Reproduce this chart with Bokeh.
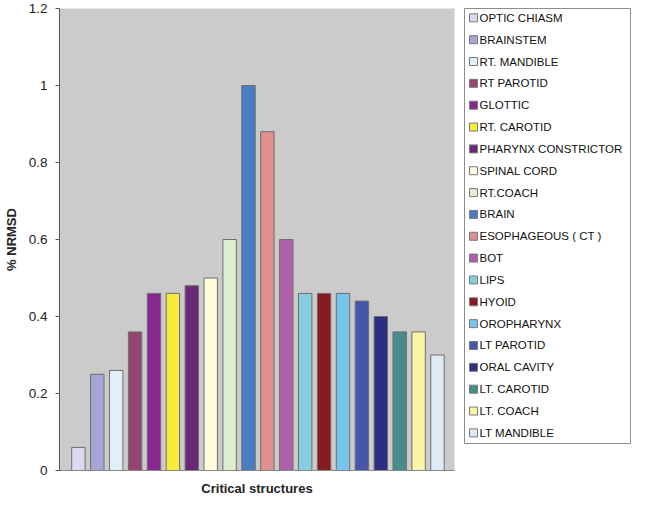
from bokeh.plotting import figure
from bokeh.layouts import row
from bokeh.models import Range1d, FixedTicker, ColumnDataSource
from bokeh.core.properties import value
from bokeh.embed import file_html
from bokeh.resources import INLINE

structures = ["OPTIC CHIASM", "BRAINSTEM", "RT. MANDIBLE", "RT PAROTID", "GLOTTIC",
              " RT. CAROTID", " PHARYNX CONSTRICTOR", "SPINAL CORD", "RT.COACH", "BRAIN",
              "ESOPHAGEOUS ( CT )", "BOT", "LIPS", "HYOID", "OROPHARYNX",
              "LT PAROTID", "ORAL CAVITY", "LT. CAROTID", "LT. COACH", "LT MANDIBLE"]
nrmsd = [0.06, 0.25, 0.26, 0.36, 0.46, 0.46, 0.48, 0.50, 0.60, 1.00,
         0.88, 0.60, 0.46, 0.46, 0.46, 0.44, 0.40, 0.36, 0.36, 0.30]
colors = ["#DCD8F0", "#A6A6D6", "#E0F0F8", "#964472", "#86288E",
          "#F8EC3A", "#6A2878", "#FFFCDC", "#DEEED0", "#4A7CC4",
          "#E09090", "#B060A8", "#88CCE0", "#861C20", "#78C4EE",
          "#4656A8", "#2C2E80", "#468C8A", "#FAF6A8", "#DEEAF6"]
y_ticks = [0, 0.2, 0.4, 0.6, 0.8, 1.0, 1.2]
y_tick_labels = ["0", "0.2", "0.4", "0.6", "0.8", "1", "1.2"]

FONT = "Liberation Sans"
n = len(structures)
pos = list(range(1, n + 1))
src = ColumnDataSource(dict(x=pos, y=nrmsd, c=colors, name=structures,
                            li=list(range(n))))

p = figure(width=463, height=498, output_backend="svg", toolbar_location=None,
           x_range=Range1d(0, 20.9), y_range=Range1d(0, 1.2),
           min_border_left=54, min_border_right=9, min_border_top=8,
           min_border_bottom=27)
p.background_fill_color = "#CBCBCB"
p.border_fill_color = "white"
p.outline_line_color = None
p.grid.visible = False

p.vbar(x="x", top="y", width=0.71, fill_color="c", line_color="#6E6E6E",
       line_width=1, source=src)

ya = p.yaxis[0]
ya.ticker = FixedTicker(ticks=y_ticks)
ya.major_label_overrides = dict(zip(y_ticks, y_tick_labels))
ya.minor_tick_line_color = None
ya.major_tick_out = 4
ya.major_tick_in = 0
ya.major_tick_line_color = "#555555"
ya.axis_line_color = "#555555"
ya.major_label_standoff = 8
ya.major_label_text_font = FONT
ya.major_label_text_font_size = "13.5px"
ya.major_label_text_color = "#222222"
ya.axis_label = "% NRMSD"
ya.axis_label_text_font = FONT
ya.axis_label_text_font_style = "bold"
ya.axis_label_text_font_size = "13px"
ya.axis_label_text_color = "#222222"
ya.axis_label_standoff = 7

xa = p.xaxis[0]
xa.ticker = FixedTicker(ticks=[])
xa.major_tick_line_color = None
xa.minor_tick_line_color = None
xa.major_label_text_font_size = "0px"
xa.axis_line_color = "#8A8A8A"
xa.axis_label = "Critical structures"
xa.axis_label_text_font = FONT
xa.axis_label_text_font_style = "bold"
xa.axis_label_text_font_size = "13px"
xa.axis_label_text_color = "#222222"
xa.axis_label_standoff = 10

# legend drawn as its own small panel
pitch = 23.4
first = 10.0
frame_h = 466
leg = figure(width=168, height=471, output_backend="svg", toolbar_location=None,
             x_range=Range1d(0, 166),
             y_range=Range1d((frame_h - first) / pitch, -first / pitch),
             x_axis_type=None, y_axis_type=None,
             min_border_left=1, min_border_right=1, min_border_top=4,
             min_border_bottom=1)
leg.grid.visible = False
leg.outline_line_color = "#8C8C8C"
leg.outline_line_width = 1
leg.background_fill_color = "white"
leg.border_fill_color = "white"

leg.scatter(x=9, y="li", marker="square", size=8, fill_color="c",
            line_color="#7A7A7A", line_width=1, source=src)
leg.text(x=15, y="li", text="name", text_font=value(FONT),
         text_font_size="11.5px", text_baseline="middle", text_align="left",
         text_color="#111111", source=src)

layout = row(p, leg)
open("out.html", "w").write(file_html(layout, INLINE))
